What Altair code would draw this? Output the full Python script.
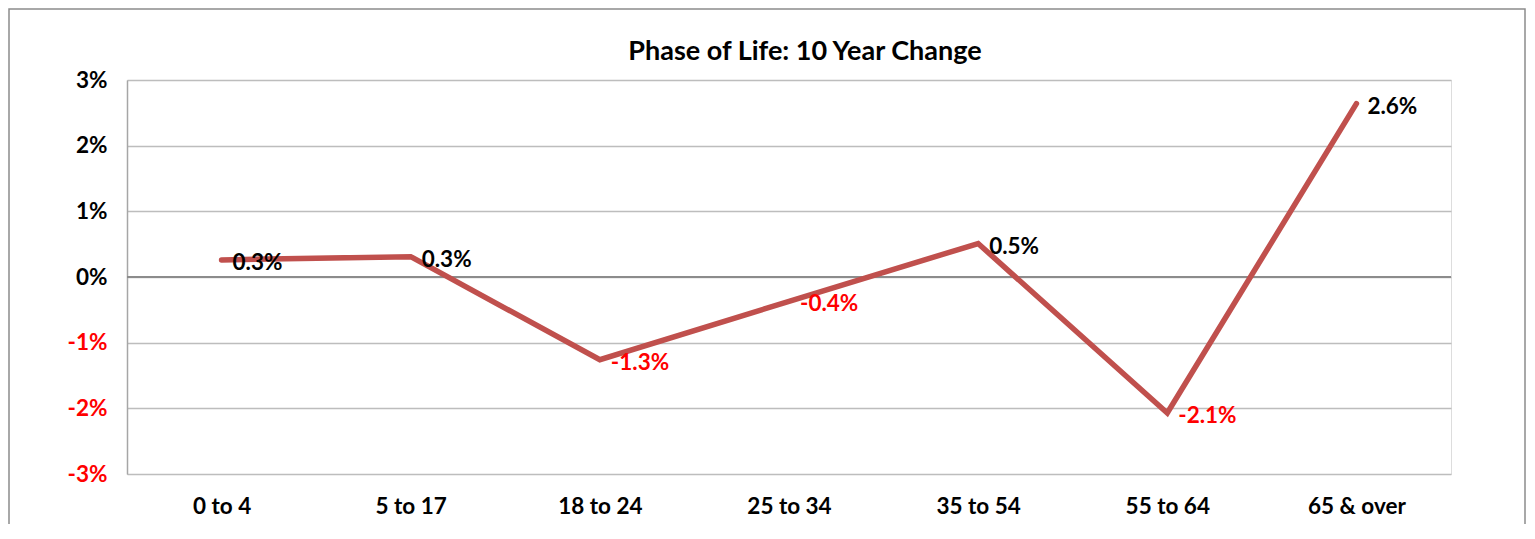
import altair as alt
import pandas as pd

categories = ["0 to 4", "5 to 17", "18 to 24", "25 to 34", "35 to 54", "55 to 64", "65 & over"]
values = [0.26, 0.31, -1.26, -0.37, 0.51, -2.07, 2.64]
y_ticks = [-3, -2, -1, 0, 1, 2, 3]
title_text = "Phase of Life: 10 Year Change"

df = pd.DataFrame({"cat": categories, "v": values})
FONT = "Lato"
FS = 22.5
W, H = 1324, 394

x_enc = alt.X("cat:N", sort=categories, title=None,
              axis=alt.Axis(labelAngle=0, ticks=False, domain=False, labelPadding=21,
                            labelFont=FONT, labelFontSize=FS, labelFontWeight="bold",
                            labelColor="black"),
              scale=alt.Scale(paddingInner=0, paddingOuter=0))
y_enc = alt.Y("v:Q", title=None, scale=alt.Scale(domain=[-3, 3], nice=False),
              axis=alt.Axis(values=y_ticks,
                            labelExpr="(datum.value < 0 ? '-' : '') + format(abs(datum.value),'d') + '%'",
                            ticks=False, domain=True, domainColor="#A6A6A6", domainWidth=1.5,
                            grid=True, gridColor="#BDBDBD", gridWidth=1.5,
                            labelFont=FONT, labelFontSize=FS, labelFontWeight="bold",
                            labelPadding=20,
                            labelColor={"condition": {"test": "datum.value < 0", "value": "#FF0000"},
                                        "value": "black"}))

base = alt.Chart(df)

border = alt.Chart(pd.DataFrame({"a": [0]})).mark_rect(
    fill=None, stroke="#8C8C8C", strokeWidth=1.5, clip=False
).encode(x=alt.value(-118), x2=alt.value(W + 74), y=alt.value(-71), y2=alt.value(H + 80))

title = alt.Chart(pd.DataFrame({"t": [title_text]})).mark_text(
    font=FONT, fontSize=27, fontWeight="bold", color="black", align="center", baseline="middle"
).encode(x=alt.value(678), y=alt.value(-28), text="t:N")

zero = alt.Chart(pd.DataFrame({"z": [0]})).mark_rule(color="#8C8C8C", strokeWidth=2).encode(
    y=alt.Y("z:Q", scale=alt.Scale(domain=[-3, 3], nice=False)))

line = base.mark_line(color="#C0504D", strokeWidth=5.5, strokeCap="round", strokeJoin="miter").encode(
    x=x_enc, y=y_enc)

labels = base.transform_calculate(
    lab="(datum.v < 0 ? '-' : '') + format(abs(datum.v), '.1f') + '%'"
).mark_text(align="left", baseline="middle", dx=11, dy=3, font=FONT, fontSize=FS,
            fontWeight="bold").encode(
    x=alt.X("cat:N", sort=categories),
    y=alt.Y("v:Q"),
    text="lab:N",
    color=alt.condition("datum.v < 0", alt.value("#FF0000"), alt.value("black")))

chart = alt.layer(border, title, zero, line, labels).properties(
    width=W, height=H,
    autosize=alt.AutoSizeParams(type="none"),
    padding={"left": 119, "top": 72, "right": 76, "bottom": 50},
).configure_view(stroke=None).configure(background="white")

chart.save("out.html", embed_options={"renderer": "svg", "actions": False})
